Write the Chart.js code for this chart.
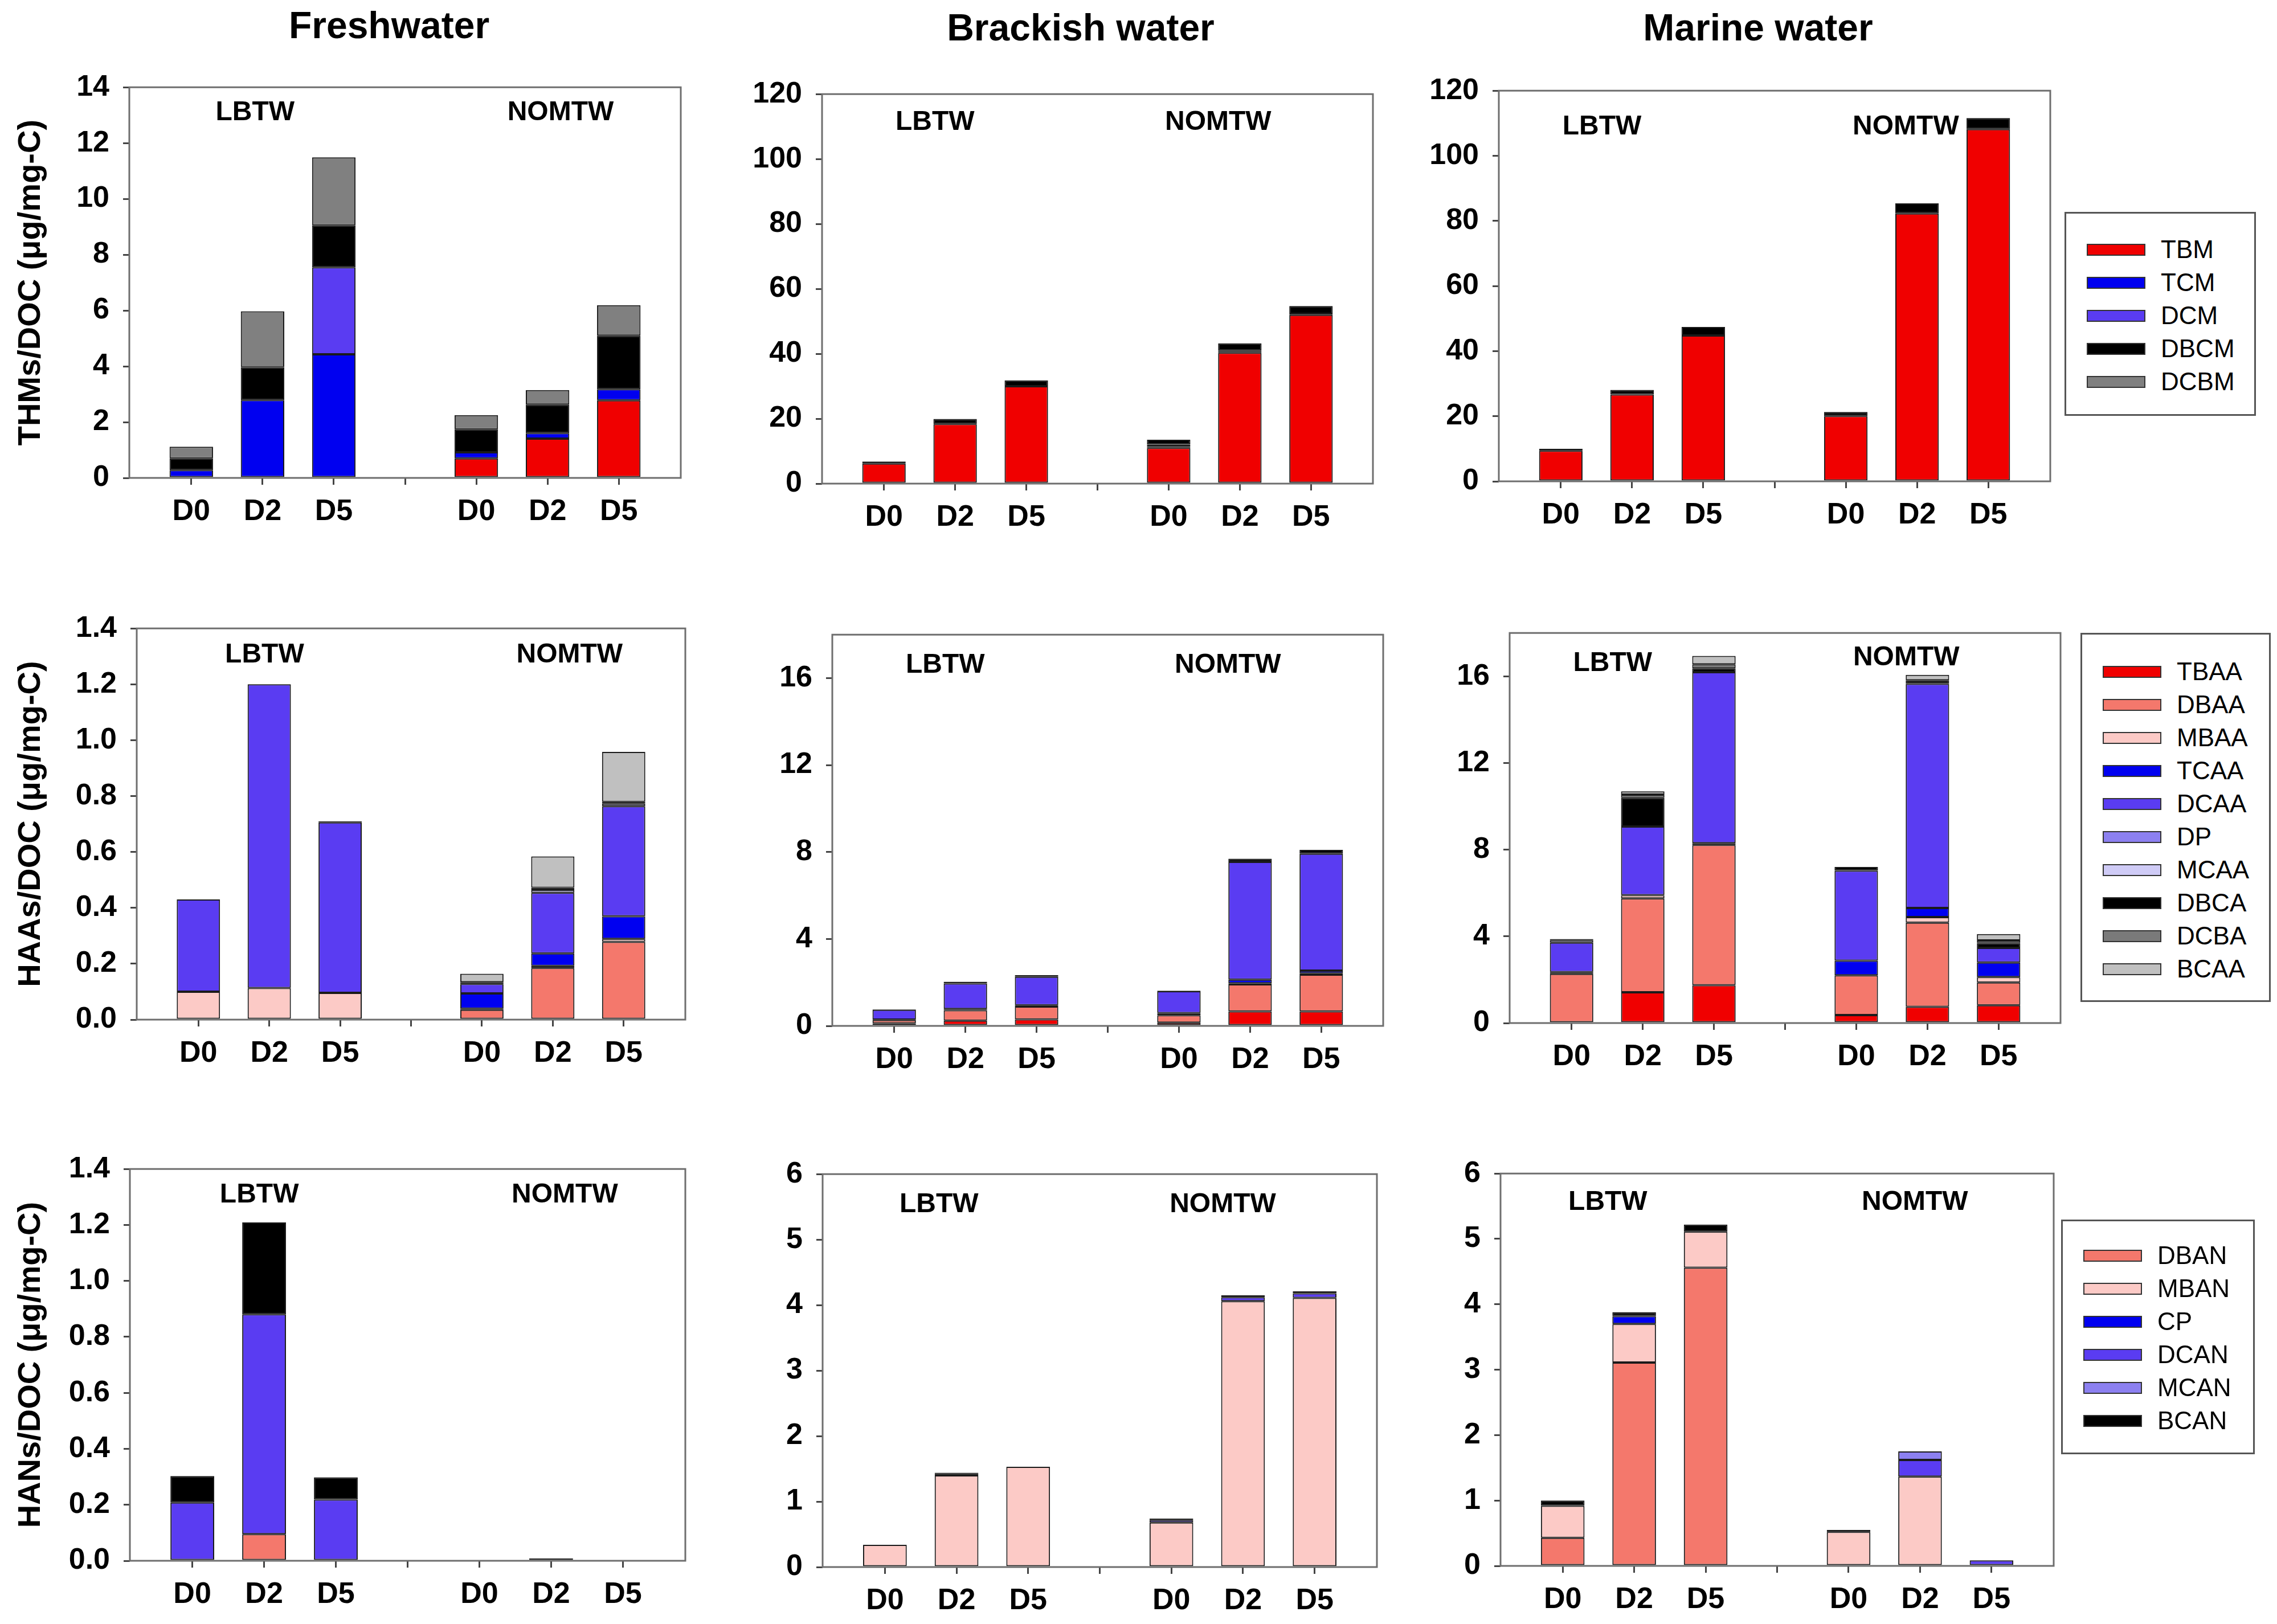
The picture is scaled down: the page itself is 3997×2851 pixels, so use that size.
<!DOCTYPE html>
<html>
<head>
<meta charset="utf-8">
<script src="https://cdn.jsdelivr.net/npm/chart.js@4.4.1/dist/chart.umd.min.js"></script>
<style>
    body { margin: 0; background: #fff; width: 3997px; height: 2851px; position: relative; overflow: hidden;
           font-family: "Liberation Sans", Arial, sans-serif; }
    canvas { position: absolute; }
    .col-title { position: absolute; font-weight: bold; font-size: 66px; transform: translate(-50%, -50%); white-space: nowrap; }
    .legend { position: absolute; border: 3px solid #555; box-sizing: border-box; }
    .legend .row { display: flex; align-items: center; height: 58px; font-size: 44px; color: #000; }
    .legend .sw { width: 103px; height: 21px; border: 2px solid #333; box-sizing: border-box; margin-left: 36px; margin-right: 27px; }
</style>
</head>
<body>
<script>
// x axis: sample days, LBTW (1-3) and NOMTW (5-7), gap tick at 4
const sampleLabels = ['D0', 'D2', 'D5', '', 'D0', 'D2', 'D5'];
const tickPositions = [1, 2, 3, 4, 5, 6, 7];
const barPositions = [1, 2, 3, 5, 6, 7];

const thmNames = ['TBM', 'TCM', 'DCM', 'DBCM', 'DCBM'];
const haaNames = ['TBAA', 'DBAA', 'MBAA', 'TCAA', 'DCAA', 'DP', 'MCAA', 'DBCA', 'DCBA', 'BCAA'];
const hanNames = ['DBAN', 'MBAN', 'CP', 'DCAN', 'MCAN', 'BCAN'];

// values per series: LBTW D0, D2, D5, NOMTW D0, D2, D5
const freshTHM = [
    [0, 0, 0, 0.70, 1.41, 2.78],
    [0.28, 2.79, 4.43, 0.22, 0.20, 0.40],
    [0, 0, 3.12, 0, 0, 0],
    [0.42, 1.18, 1.50, 0.82, 1.02, 1.92],
    [0.42, 2.00, 2.44, 0.51, 0.52, 1.09]
];
const brackTHM = [
    [6.2, 18.4, 30.0, 11.0, 40.3, 52.0],
    [0, 0, 0, 0.3, 0.3, 0.3],
    [0, 0, 0, 0.7, 0.4, 0],
    [0.6, 1.5, 1.8, 1.5, 2.2, 2.4],
    [0, 0, 0, 0, 0, 0]
];
const marineTHM = [
    [9.4, 26.7, 44.8, 20.1, 82.3, 108.2],
    [0, 0, 0, 0, 0, 0],
    [0, 0, 0, 0, 0, 0],
    [0.6, 1.4, 2.6, 1.2, 3.1, 3.4],
    [0, 0, 0, 0, 0, 0]
];

const freshHAA = [
    [0, 0, 0, 0, 0, 0],
    [0, 0, 0, 0.035, 0.185, 0.278],
    [0.10, 0.113, 0.096, 0.004, 0.007, 0.011],
    [0, 0, 0, 0.055, 0.045, 0.081],
    [0.33, 1.087, 0.61, 0.034, 0.217, 0.394],
    [0, 0, 0, 0, 0, 0],
    [0, 0, 0, 0, 0.011, 0.009],
    [0, 0, 0.004, 0.006, 0.007, 0.006],
    [0, 0, 0, 0, 0, 0],
    [0, 0, 0, 0.03, 0.112, 0.179]
];
const brackHAA = [
    [0.12, 0.24, 0.30, 0.15, 0.67, 0.67],
    [0.15, 0.48, 0.59, 0.34, 1.24, 1.69],
    [0.02, 0, 0, 0, 0.05, 0.06],
    [0, 0.06, 0.06, 0.10, 0.17, 0.12],
    [0.45, 1.17, 1.31, 1.01, 5.42, 5.38],
    [0, 0, 0, 0, 0, 0],
    [0, 0, 0, 0, 0, 0],
    [0.02, 0.08, 0.08, 0.02, 0.14, 0.18],
    [0, 0, 0, 0, 0, 0],
    [0, 0, 0, 0, 0, 0]
];
const marineHAA = [
    [0, 1.42, 1.75, 0.37, 0.75, 0.82],
    [2.27, 4.33, 6.47, 1.83, 3.88, 1.05],
    [0, 0.15, 0.08, 0, 0.26, 0.25],
    [0.08, 0, 0, 0.68, 0.42, 0.67],
    [1.36, 3.17, 7.89, 4.15, 10.34, 0.68],
    [0, 0, 0, 0, 0, 0],
    [0.12, 0, 0, 0, 0, 0],
    [0.05, 1.32, 0.18, 0.17, 0.17, 0.22],
    [0, 0.15, 0.18, 0, 0, 0.12],
    [0, 0.15, 0.39, 0, 0.25, 0.30]
];

const freshHAN = [
    [0, 0.095, 0, 0, 0, 0],
    [0, 0, 0, 0, 0, 0],
    [0, 0, 0, 0, 0, 0],
    [0.208, 0.786, 0.219, 0, 0.008, 0],
    [0, 0, 0, 0, 0, 0],
    [0.095, 0.328, 0.079, 0, 0, 0]
];
const brackHAN = [
    [0, 0, 0, 0, 0, 0],
    [0.34, 1.40, 1.53, 0.68, 4.06, 4.11],
    [0, 0, 0, 0, 0, 0],
    [0, 0.02, 0, 0.04, 0.06, 0.07],
    [0, 0, 0, 0, 0, 0],
    [0, 0.02, 0, 0.02, 0.03, 0.03]
];
const marineHAN = [
    [0.43, 3.11, 4.56, 0, 0, 0],
    [0.49, 0.59, 0.55, 0.52, 1.365, 0],
    [0, 0.12, 0, 0, 0, 0],
    [0, 0, 0, 0, 0.255, 0.085],
    [0, 0, 0, 0, 0.13, 0],
    [0.08, 0.06, 0.11, 0.03, 0, 0]
];

const ticksFresh14 = [0, 2, 4, 6, 8, 10, 12, 14];
const ticks120 = [0, 20, 40, 60, 80, 100, 120];
const ticksSmall14 = [0, 0.2, 0.4, 0.6, 0.8, 1.0, 1.2, 1.4];
const ticks16 = [0, 4, 8, 12, 16];
const ticks6 = [0, 1, 2, 3, 4, 5, 6];

const seriesColors = {
    TBM: '#f00000', TCM: '#0000f0', DCM: '#5a3cf2', DBCM: '#000000', DCBM: '#808080',
    TBAA: '#f00000', DBAA: '#f4786c', MBAA: '#fccac6', TCAA: '#0000f0', DCAA: '#5a3cf2',
    DP: '#8c80f0', MCAA: '#cfcbf6', DBCA: '#000000', DCBA: '#7a7a7a', BCAA: '#c0c0c0',
    DBAN: '#f4786c', MBAN: '#fccac6', CP: '#0000f0', DCAN: '#5a3cf2', MCAN: '#8c80f0', BCAN: '#000000'
};

const FONT = '"Liberation Sans", Arial, sans-serif';
Chart.defaults.font.family = FONT;
Chart.defaults.color = '#000';

// plot boxes [left, top, right, bottom]; label spots as fractions of the plot area [xL, yL, xN, yN]
const panels = [
    { values: freshTHM, names: thmNames, ticks: ticksFresh14, max: 14, dec: 0, plot: [227, 143, 1195, 839], note: [0.228, 0.065, 0.782, 0.065], yTitle: 'THMs/DOC (\u03bcg/mg-C)' },
    { values: brackTHM, names: thmNames, ticks: ticks120, max: 120, dec: 0, plot: [1443, 155, 2410, 849], note: [0.205, 0.072, 0.719, 0.072] },
    { values: marineTHM, names: thmNames, ticks: ticks120, max: 120, dec: 0, plot: [2631, 149, 3599, 845], note: [0.187, 0.092, 0.738, 0.092] },
    { values: freshHAA, names: haaNames, ticks: ticksSmall14, max: 1.4, dec: 1, plot: [240, 1093, 1203, 1790], note: [0.233, 0.068, 0.789, 0.068], yTitle: 'HAAs/DOC (\u03bcg/mg-C)' },
    { values: brackHAA, names: haaNames, ticks: ticks16, max: 18, dec: 0, plot: [1461, 1104, 2428, 1801], note: [0.205, 0.078, 0.718, 0.078] },
    { values: marineHAA, names: haaNames, ticks: ticks16, max: 18, dec: 0, plot: [2650, 1101, 3617, 1796], note: [0.187, 0.078, 0.72, 0.064] },
    { values: freshHAN, names: hanNames, ticks: ticksSmall14, max: 1.4, dec: 1, plot: [228, 2042, 1203, 2740], note: [0.233, 0.066, 0.783, 0.066], yTitle: 'HANs/DOC (\u03bcg/mg-C)' },
    { values: brackHAN, names: hanNames, ticks: ticks6, max: 6, dec: 0, plot: [1444, 2051, 2417, 2751], note: [0.21, 0.077, 0.722, 0.077] },
    { values: marineHAN, names: hanNames, ticks: ticks6, max: 6, dec: 0, plot: [2634, 2050, 3605, 2749], note: [0.194, 0.074, 0.749, 0.074] }
];

// frame round the plot area plus the LBTW / NOMTW labels
const framePlugin = {
    id: 'frame',
    afterDatasetsDraw(chart, args, opts) {
        const { ctx, chartArea: a } = chart;
        const w = a.right - a.left, h = a.bottom - a.top;
        const n = opts.note;
        ctx.save();
        ctx.strokeStyle = '#6e6e6e';
        ctx.lineWidth = 3;
        ctx.strokeRect(a.left, a.top, w, h);
        ctx.fillStyle = '#000';
        ctx.font = 'bold 48px ' + FONT;
        ctx.textAlign = 'center';
        ctx.textBaseline = 'middle';
        ctx.fillText('LBTW', a.left + n[0] * w, a.top + n[1] * h);
        ctx.fillText('NOMTW', a.left + n[2] * w, a.top + n[3] * h);
        ctx.restore();
    }
};

function makePanel(p) {
    const [L, T, R, B] = p.plot;
    const padL = p.yTitle ? L : 230;
    const padTop = 45, padRight = 25, xHeight = 130;
    const cx = L - padL, cy = T - padTop;
    const w = R - cx + padRight, h = B - cy + xHeight;

    const canvas = document.createElement('canvas');
    canvas.width = w;
    canvas.height = h;
    canvas.style.left = cx + 'px';
    canvas.style.top = cy + 'px';
    canvas.style.width = w + 'px';
    canvas.style.height = h + 'px';
    document.body.appendChild(canvas);

    const datasets = p.names.map((name, k) => ({
        label: name,
        data: barPositions.map((x, i) => ({ x: x, y: p.values[k][i] > 0 ? p.values[k][i] : null })),
        backgroundColor: seriesColors[name],
        borderColor: '#1a1a1a',
        borderWidth: 2,
        borderSkipped: false,
        barPercentage: 0.61,
        categoryPercentage: 1
    }));

    new Chart(canvas, {
        type: 'bar',
        data: { datasets },
        options: {
            responsive: false,
            animation: false,
            devicePixelRatio: 1,
            layout: { padding: { top: padTop, right: padRight, left: 0, bottom: 0 } },
            plugins: {
                legend: { display: false },
                tooltip: { enabled: false },
                frame: { note: p.note }
            },
            scales: {
                x: {
                    type: 'linear',
                    stacked: true,
                    min: 0.13,
                    max: 7.87,
                    offset: false,
                    afterBuildTicks: s => { s.ticks = tickPositions.map(v => ({ value: v })); },
                    afterFit: s => { s.height = xHeight; },
                    ticks: {
                        callback: v => sampleLabels[tickPositions.indexOf(v)],
                        font: { size: 52, weight: 'bold' },
                        color: '#000',
                        padding: 16,
                        maxRotation: 0,
                        autoSkip: false
                    },
                    grid: { offset: false, drawOnChartArea: false, tickLength: 12, color: '#444', lineWidth: 3 },
                    border: { display: false }
                },
                y: {
                    stacked: true,
                    min: 0,
                    max: p.max,
                    afterBuildTicks: s => { s.ticks = p.ticks.map(v => ({ value: v })); },
                    afterFit: s => { s.width = padL; },
                    ticks: {
                        callback: v => v.toFixed(p.dec),
                        font: { size: 52, weight: 'bold' },
                        color: '#000',
                        padding: 24
                    },
                    grid: { drawOnChartArea: false, tickLength: 11, color: '#444', lineWidth: 3 },
                    border: { display: false },
                    title: p.yTitle ? {
                        display: true,
                        text: p.yTitle,
                        font: { size: 56, weight: 'bold' },
                        color: '#000',
                        padding: { top: 21, bottom: 0 }
                    } : { display: false }
                }
            }
        },
        plugins: [framePlugin]
    });
}

function addTitle(text, x, y) {
    const d = document.createElement('div');
    d.className = 'col-title';
    d.textContent = text;
    d.style.left = x + 'px';
    d.style.top = y + 'px';
    document.body.appendChild(d);
}

function addLegend(names, box) {
    const [left, top, width, height, padTop] = box;
    const div = document.createElement('div');
    div.className = 'legend';
    div.style.left = left + 'px';
    div.style.top = top + 'px';
    div.style.width = width + 'px';
    div.style.height = height + 'px';
    div.style.paddingTop = padTop + 'px';
    div.innerHTML = names.map(n =>
        `<div class="row"><span class="sw" style="background:${seriesColors[n]}"></span>${n}</div>`
    ).join('');
    document.body.appendChild(div);
}

panels.forEach(makePanel);

addTitle('Freshwater', 683, 44);
addTitle('Brackish water', 1897, 48);
addTitle('Marine water', 3086, 48);

addLegend(thmNames, [3624, 372, 336, 358, 34]);
addLegend(haaNames, [3652, 1111, 334, 648, 36]);
addLegend(hanNames, [3618, 2141, 340, 412, 31]);
</script>
</body>
</html>
